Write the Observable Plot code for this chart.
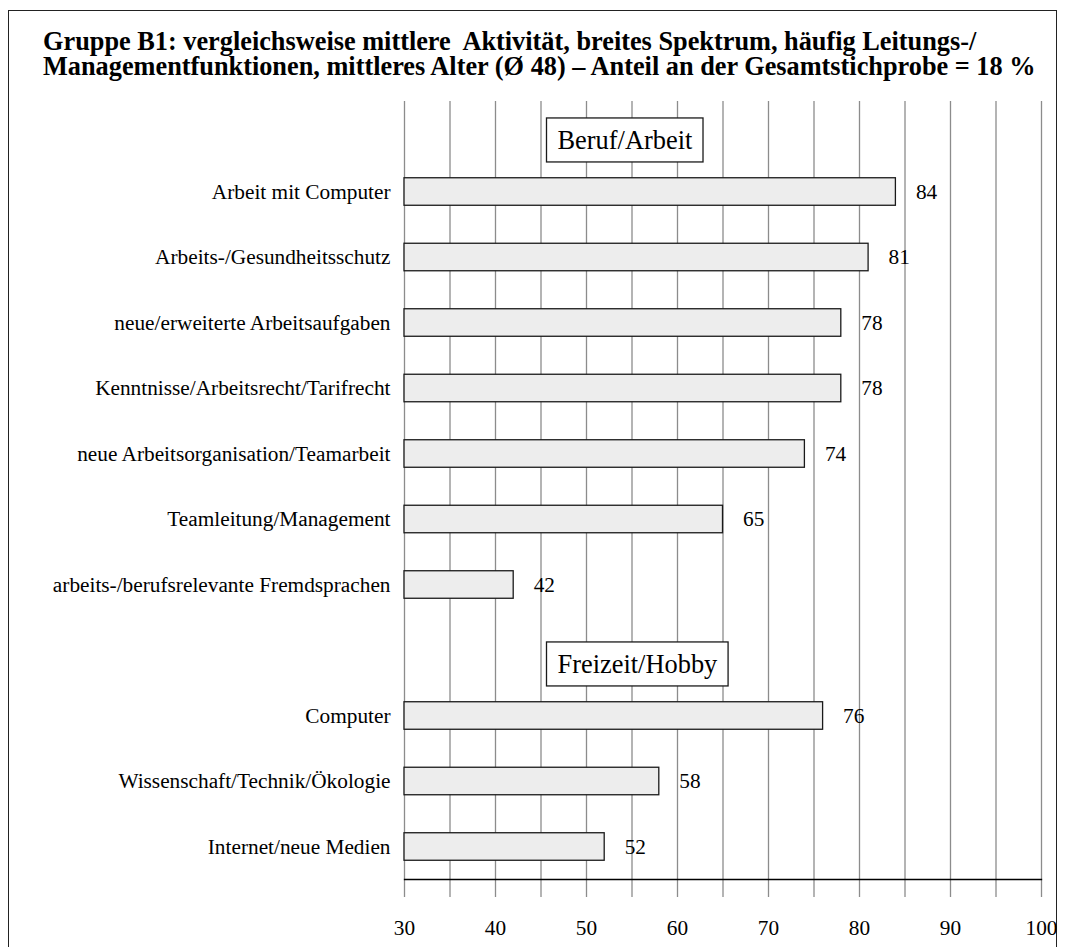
<!DOCTYPE html>
<html>
<head>
<meta charset="utf-8">
<script src="https://cdn.jsdelivr.net/npm/d3@7"></script>
<script src="https://cdn.jsdelivr.net/npm/@observablehq/plot@0.6"></script>
<style>
  html, body { margin: 0; padding: 0; background: #fff; }
  body { width: 1066px; height: 947px; position: relative; overflow: hidden; font-family: "Liberation Serif", serif; }
  #frame { position: absolute; left: 8px; top: 10px; width: 1049px; height: 960px; border: 1.3px solid #222; box-sizing: border-box; }
  #title { position: absolute; left: 43px; top: 28.6px; font-size: 26.3px; line-height: 25px; font-weight: bold; white-space: pre; color: #000; }
  #chart { position: absolute; left: 0; top: 90px; }
</style>
</head>
<body>
<div id="frame"></div>
<div id="title"></div>
<div id="chart"></div>
<script>
const titleLines = [
  "Gruppe B1: vergleichsweise mittlere  Aktivität, breites Spektrum, häufig Leitungs-/",
  "Managementfunktionen, mittleres Alter (Ø 48) – Anteil an der Gesamtstichprobe = 18 %"
];
const groups = ["Beruf/Arbeit", "Freizeit/Hobby"];
const categoriesBeruf = [
  "Arbeit mit Computer",
  "Arbeits-/Gesundheitsschutz",
  "neue/erweiterte Arbeitsaufgaben",
  "Kenntnisse/Arbeitsrecht/Tarifrecht",
  "neue Arbeitsorganisation/Teamarbeit",
  "Teamleitung/Management",
  "arbeits-/berufsrelevante Fremdsprachen"
];
const valuesBeruf = [84, 81, 78, 78, 74, 65, 42];
const categoriesFreizeit = [
  "Computer",
  "Wissenschaft/Technik/Ökologie",
  "Internet/neue Medien"
];
const valuesFreizeit = [76, 58, 52];
const xDomain = [30, 100];
const xTicks = [30, 35, 40, 45, 50, 55, 60, 65, 70, 75, 80, 85, 90, 95, 100];

document.getElementById("title").textContent = titleLines.join("\n");

const rows = [
  ...categoriesBeruf.map((c, i) => ({label: c, value: valuesBeruf[i]})),
  ...categoriesFreizeit.map((c, i) => ({label: c, value: valuesFreizeit[i]}))
];
const yDomain = [groups[0], ...categoriesBeruf, groups[1], ...categoriesFreizeit];

const gridColor = "#8c8c8c";

const svg = Plot.plot({
  width: 1066,
  height: 857,
  marginLeft: 404,
  marginRight: 25,
  marginTop: 11,
  marginBottom: 68,
  style: {fontFamily: "Liberation Serif, serif", fontSize: "21.3px", color: "#000", background: "transparent"},
  x: {domain: xDomain},
  y: {domain: yDomain, type: "band", paddingInner: 0.58, paddingOuter: 0.229, align: 0.375, round: false},
  marks: [
    Plot.gridX(xTicks, {stroke: gridColor, strokeOpacity: 1, strokeWidth: 1.3}),
    Plot.axisX(xTicks, {
      tickSize: 18, tickPadding: 22, stroke: gridColor, strokeWidth: 1.3,
      tickFormat: d => (d % 10 === 0 ? String(d) : ""), fontSize: 21.3, label: null
    }),
    Plot.axisY(rows.map(d => d.label), {tickSize: 0, tickPadding: 14, fontSize: 21.3, label: null}),
    Plot.barX(rows, {y: "label", x1: xDomain[0], x2: "value", fill: "#ededed", stroke: "#1a1a1a", strokeWidth: 1.3}),
    Plot.text(rows, {y: "label", x: "value", text: d => String(d.value), textAnchor: "start", dx: 20, fontSize: 21.3, fill: "#000"}),
    Plot.frame({anchor: "bottom", stroke: "#000", strokeWidth: 1.3}),
    Plot.text(groups, {y: d => d, text: d => d, frameAnchor: "left", dx: 153, dy: 14, textAnchor: "start", fontSize: 26.4, fill: "#000", className: "hdr"})
  ]
});
document.getElementById("chart").appendChild(svg);

// white boxes behind the section headers
svg.querySelectorAll(".hdr text").forEach(t => {
  const bb = t.getBBox();
  const r = document.createElementNS("http://www.w3.org/2000/svg", "rect");
  r.setAttribute("x", bb.x - 11);
  r.setAttribute("y", bb.y - 7);
  r.setAttribute("width", bb.width + 21);
  r.setAttribute("height", bb.height + 14);
  r.setAttribute("fill", "#fff");
  r.setAttribute("stroke", "#1a1a1a");
  r.setAttribute("stroke-width", "1.3");
  const tr = t.getAttribute("transform");
  if (tr) r.setAttribute("transform", tr);
  t.parentNode.insertBefore(r, t);
});
</script>
</body>
</html>
